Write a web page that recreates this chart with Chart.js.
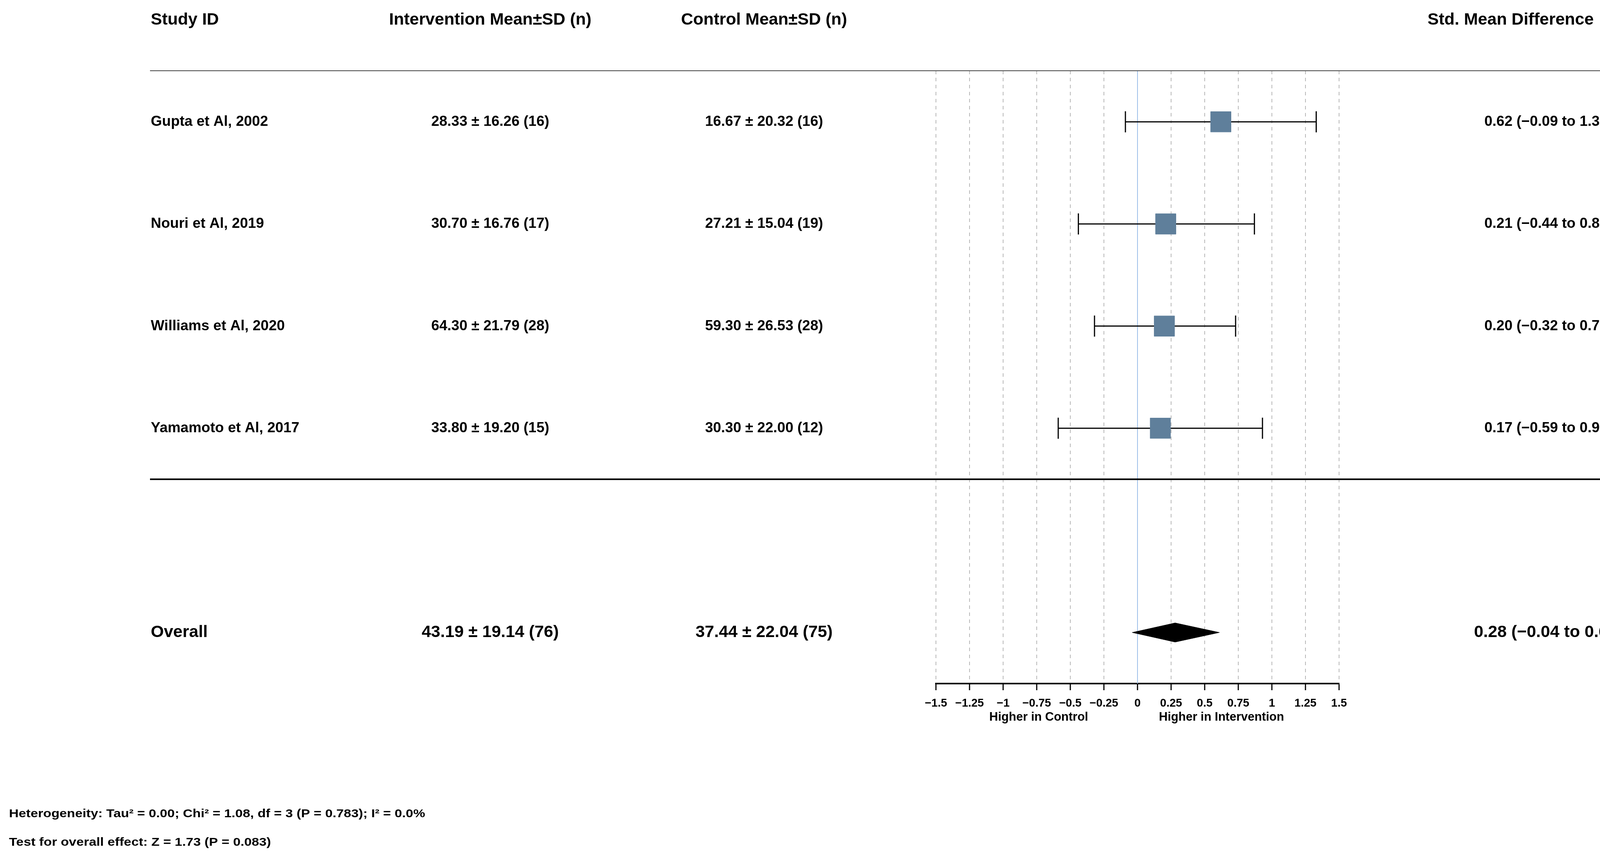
<!DOCTYPE html>
<html>
<head>
<meta charset="utf-8">
<title>Forest plot</title>
<script src="https://cdn.jsdelivr.net/npm/chart.js@4.4.1/dist/chart.umd.min.js"></script>
<style>
html, body { margin: 0; padding: 0; background: #fff; }
#wrap { width: 4306px; height: 2203px; position: relative; }
</style>
</head>
<body>
<div id="wrap"><canvas id="chart-area"></canvas></div>
<script>
/* study rows */
var studies = ["Gupta et Al, 2002", "Nouri et Al, 2019", "Williams et Al, 2020", "Yamamoto et Al, 2017"];
var intMean = [28.33, 30.70, 64.30, 33.80];
var intSd = [16.26, 16.76, 21.79, 19.20];
var intN = [16, 17, 28, 15];
var ctrlMean = [16.67, 27.21, 59.30, 30.30];
var ctrlSd = [20.32, 15.04, 26.53, 22.00];
var ctrlN = [16, 19, 28, 12];
var smd = [0.62, 0.21, 0.20, 0.17];
var ciLow = [-0.09, -0.44, -0.32, -0.59];
var ciHigh = [1.33, 0.87, 0.73, 0.93];

/* pooled row */
var overallInt = [43.19, 19.14, 76];
var overallCtrl = [37.44, 22.04, 75];
var overallSmd = [0.28, -0.04, 0.61];

/* axis */
var xTicks = [-1.5, -1.25, -1, -0.75, -0.5, -0.25, 0, 0.25, 0.5, 0.75, 1, 1.25, 1.5];
var headers = ["Study ID", "Intervention Mean\u00b1SD (n)", "Control Mean\u00b1SD (n)", "Std. Mean Difference  (95% CI)"];
var sideLabels = ["Higher in Control", "Higher in Intervention"];
var footer = [
    "Heterogeneity: Tau\u00b2 = 0.00; Chi\u00b2 = 1.08, df = 3 (P = 0.783); I\u00b2 = 0.0%",
    "Test for overall effect: Z = 1.73 (P = 0.083)"
];

var FONT = "'Liberation Sans', Arial, Helvetica, sans-serif";
var OVERALL_Y = 5.5;
var DIAMOND_H = 0.094;

var num = function (v) {
    return v < 0 ? "\u2212" + Math.abs(v).toFixed(2) : v.toFixed(2);
};
var msd = function (m, sd, n) {
    return m.toFixed(2) + " \u00b1 " + sd.toFixed(2) + " (" + n + ")";
};
var ciText = function (e, lo, hi) {
    return num(e) + " (" + num(lo) + " to " + num(hi) + ")";
};

var datasets = [];

// squares
datasets.push({
    type: 'scatter',
    data: smd.map(function (v, i) { return {x: v, y: i + 0.5}; }),
    pointStyle: 'rect',
    pointRadius: 37,
    backgroundColor: '#5f7f9b',
    borderColor: '#5f7f9b',
    borderWidth: 1,
    order: 0
});

// pooled diamond
datasets.push({
    type: 'line',
    data: [
        {x: overallSmd[1], y: OVERALL_Y},
        {x: overallSmd[0], y: OVERALL_Y - DIAMOND_H},
        {x: overallSmd[2], y: OVERALL_Y},
        {x: overallSmd[0], y: OVERALL_Y + DIAMOND_H},
        {x: overallSmd[1], y: OVERALL_Y}
    ],
    fill: 'shape',
    backgroundColor: '#000',
    borderColor: '#000',
    borderWidth: 1,
    pointRadius: 0,
    tension: 0,
    order: 1
});

// whisker caps
var caps = [];
for (var i = 0; i < studies.length; i++) {
    caps.push({x: ciLow[i], y: i + 0.5});
    caps.push({x: ciHigh[i], y: i + 0.5});
}
datasets.push({
    type: 'scatter',
    data: caps,
    pointStyle: 'line',
    rotation: 90,
    pointRadius: 27,
    borderColor: '#000',
    borderWidth: 3,
    order: 2
});

// whisker lines
for (var j = 0; j < studies.length; j++) {
    datasets.push({
        type: 'line',
        data: [{x: ciLow[j], y: j + 0.5}, {x: ciHigh[j], y: j + 0.5}],
        borderColor: '#000',
        borderWidth: 3,
        pointRadius: 0,
        fill: false,
        order: 3
    });
}

// line of no effect
datasets.push({
    type: 'line',
    data: [{x: 0, y: 0}, {x: 0, y: 6}],
    borderColor: '#9cbfe9',
    borderWidth: 2,
    pointRadius: 0,
    fill: false,
    order: 4
});

var tablePlugin = {
    id: 'table',
    afterDatasetsDraw: function (chart) {
        var ctx = chart.ctx;
        var ys = chart.scales.y;
        var xs = chart.scales.x;
        var colStudy = 386, colInt = 1255, colCtrl = 1956, colSmd = 3964;

        ctx.save();
        ctx.fillStyle = '#000';
        ctx.textBaseline = 'middle';

        // header
        ctx.font = 'bold 43px ' + FONT;
        ctx.textAlign = 'left';
        ctx.fillText(headers[0], colStudy, 51);
        ctx.textAlign = 'center';
        ctx.fillText(headers[1], colInt, 51);
        ctx.fillText(headers[2], colCtrl, 51);
        ctx.fillText(headers[3], colSmd, 51);

        // separators
        ctx.strokeStyle = '#444';
        ctx.lineWidth = 2;
        ctx.beginPath();
        ctx.moveTo(384, ys.getPixelForValue(0));
        ctx.lineTo(4274, ys.getPixelForValue(0));
        ctx.stroke();
        ctx.strokeStyle = '#000';
        ctx.lineWidth = 4;
        ctx.beginPath();
        ctx.moveTo(384, ys.getPixelForValue(4));
        ctx.lineTo(4276, ys.getPixelForValue(4));
        ctx.stroke();

        // study rows
        ctx.font = 'bold 37px ' + FONT;
        for (var k = 0; k < studies.length; k++) {
            var y = ys.getPixelForValue(k + 0.5);
            ctx.textAlign = 'left';
            ctx.fillText(studies[k], colStudy, y);
            ctx.textAlign = 'center';
            ctx.fillText(msd(intMean[k], intSd[k], intN[k]), colInt, y);
            ctx.fillText(msd(ctrlMean[k], ctrlSd[k], ctrlN[k]), colCtrl, y);
            ctx.fillText(ciText(smd[k], ciLow[k], ciHigh[k]), colSmd, y);
        }

        // overall row
        var oy = ys.getPixelForValue(OVERALL_Y);
        ctx.font = 'bold 43px ' + FONT;
        ctx.textAlign = 'left';
        ctx.fillText('Overall', colStudy, oy);
        ctx.textAlign = 'center';
        ctx.fillText(msd(overallInt[0], overallInt[1], overallInt[2]), colInt, oy);
        ctx.fillText(msd(overallCtrl[0], overallCtrl[1], overallCtrl[2]), colCtrl, oy);
        ctx.fillText(ciText(overallSmd[0], overallSmd[1], overallSmd[2]), colSmd, oy);

        // direction labels under the axis
        ctx.font = 'bold 31px ' + FONT;
        ctx.fillText(sideLabels[0], xs.getPixelForValue(-0.735), 1835);
        ctx.fillText(sideLabels[1], xs.getPixelForValue(0.625), 1835);

        // footer (the source text is a little stretched sideways)
        ctx.font = 'bold 29px ' + FONT;
        ctx.textAlign = 'left';
        var fy = [2083, 2156];
        for (var f = 0; f < footer.length; f++) {
            ctx.save();
            ctx.translate(23, fy[f]);
            ctx.scale(1.18, 1);
            ctx.fillText(footer[f], 0, 0);
            ctx.restore();
        }
        ctx.restore();
    }
};

var config = {
    type: 'scatter',
    data: {datasets: datasets},
    plugins: [tablePlugin],
    options: {
        responsive: true,
        maintainAspectRatio: false,
        devicePixelRatio: 1,
        animation: false,
        layout: {
            padding: {left: 2396, right: 878, top: 181, bottom: 354}
        },
        plugins: {
            legend: {display: false},
            tooltip: {enabled: false}
        },
        scales: {
            x: {
                type: 'linear',
                min: -1.5,
                max: 1.5,
                afterBuildTicks: function (scale) {
                    scale.ticks = xTicks.map(function (v) { return {value: v}; });
                },
                afterFit: function (scale) {
                    scale.height = 100;
                },
                grid: {
                    color: function (c) {
                        return c.tick && c.tick.value === 0 ? 'rgba(0,0,0,0)' : '#b8b8b8';
                    },
                    lineWidth: 2,
                    drawTicks: true,
                    tickLength: 17,
                    tickColor: '#000',
                    tickWidth: 3,
                    tickBorderDash: []
                },
                border: {
                    display: true,
                    color: '#000',
                    width: 4,
                    dash: [9, 9]
                },
                ticks: {
                    autoSkip: false,
                    maxRotation: 0,
                    padding: 17,
                    color: '#000',
                    font: {family: FONT, size: 29, weight: 'bold'},
                    callback: function (v) {
                        return v < 0 ? "\u2212" + Math.abs(v) : String(v);
                    }
                }
            },
            y: {
                type: 'linear',
                display: false,
                min: 0,
                max: 6,
                reverse: true
            }
        }
    }
};

var ctx = document.getElementById("chart-area").getContext("2d");
var myForest = new Chart(ctx, config);
</script>
</body>
</html>
